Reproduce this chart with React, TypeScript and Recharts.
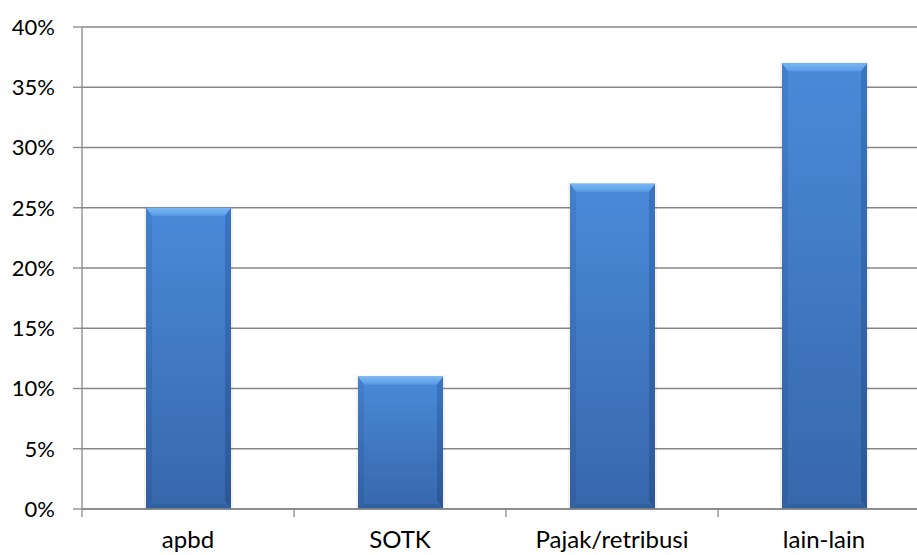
import React from "react";
import { BarChart, Bar, XAxis, YAxis, CartesianGrid } from "recharts";

const categories = ["apbd", "SOTK", "Pajak/retribusi", "lain-lain"];
const shares = [25, 11, 27, 37];
const yTicks = [0, 5, 10, 15, 20, 25, 30, 35, 40];

const data = categories.map((name, i) => ({ name, value: shares[i] }));

const GRID = "#878787";
const FONT = "Lato, 'Open Sans', sans-serif";

// step between category boundaries (plot width / category count)
const PLOT_W = 848;
const STEP = PLOT_W / categories.length;

function BevelBar(props: any) {
  const { x, y, width: w, height: h } = props;
  if (!h || h <= 0) return null;
  const b = 8;
  const s = 6;
  return (
    <g>
      <rect x={x - 2} y={y - 1} width={w + 4} height={h + 1} fill="rgba(0,0,0,0.05)" />
      <rect x={x} y={y} width={w} height={h} fill="url(#barMain)" />
      <polygon points={`${x},${y} ${x + s},${y + b} ${x + s},${y + h - b} ${x},${y + h}`} fill="url(#barLeft)" />
      <polygon points={`${x + w},${y} ${x + w - s},${y + b} ${x + w - s},${y + h - b} ${x + w},${y + h}`} fill="url(#barRight)" />
      <polygon points={`${x},${y} ${x + w},${y} ${x + w - s},${y + b} ${x + s},${y + b}`} fill="url(#barTop)" />
      <polygon points={`${x},${y + h} ${x + w},${y + h} ${x + w - s},${y + h - 5} ${x + s},${y + h - 5}`} fill="#30609f" />
    </g>
  );
}

function CatTick(props: any) {
  const { x, y, payload, index } = props;
  return (
    <g>
      <line x1={x - STEP / 2} y1={y} x2={x - STEP / 2} y2={y + 8} stroke={GRID} strokeWidth={1.3} />
      {index === categories.length - 1 && (
        <line x1={x + STEP / 2} y1={y} x2={x + STEP / 2} y2={y + 8} stroke={GRID} strokeWidth={1.3} />
      )}
      <text x={x} y={y + 39} textAnchor="middle" fill="#000" fontSize={24} fontFamily={FONT}>
        {payload.value}
      </text>
    </g>
  );
}

export default function App() {
  return (
    <div style={{ position: "absolute", left: 0, top: 0, width: 917, height: 555, overflow: "hidden", background: "#fff" }}>
      <BarChart width={940} height={555} data={data} margin={{ top: 27, right: 10, left: 0, bottom: 0 }} barSize={85}>
        <defs>
          <linearGradient id="barMain" x1="0" y1="0" x2="0" y2="1">
            <stop offset="0%" stopColor="#4a8ad9" />
            <stop offset="100%" stopColor="#3767ab" />
          </linearGradient>
          <linearGradient id="barLeft" x1="0" y1="0" x2="0" y2="1">
            <stop offset="0%" stopColor="#4280cd" />
            <stop offset="100%" stopColor="#325fa2" />
          </linearGradient>
          <linearGradient id="barRight" x1="0" y1="0" x2="0" y2="1">
            <stop offset="0%" stopColor="#3a75c2" />
            <stop offset="100%" stopColor="#2c5796" />
          </linearGradient>
          <linearGradient id="barTop" x1="0" y1="0" x2="0" y2="1">
            <stop offset="0%" stopColor="#7ab8f6" />
            <stop offset="100%" stopColor="#5c9be4" />
          </linearGradient>
        </defs>
        <CartesianGrid horizontal vertical={false} stroke={GRID} strokeWidth={1.3} />
        <XAxis
          dataKey="name"
          height={46}
          axisLine={{ stroke: GRID, strokeWidth: 1.3 }}
          tickLine={false}
          tickSize={0}
          tickMargin={0}
          tick={<CatTick />}
          interval={0}
        />
        <YAxis
          width={82}
          domain={[0, 40]}
          ticks={yTicks}
          tickFormatter={(v: number) => `${v}%`}
          axisLine={{ stroke: GRID, strokeWidth: 1.3 }}
          tickLine={{ stroke: GRID, strokeWidth: 1.3 }}
          tickSize={9}
          tickMargin={18}
          tick={{ fill: "#000", fontSize: 22, fontFamily: FONT }}
          interval={0}
        />
        <Bar dataKey="value" shape={<BevelBar />} isAnimationActive={false} />
      </BarChart>
    </div>
  );
}
